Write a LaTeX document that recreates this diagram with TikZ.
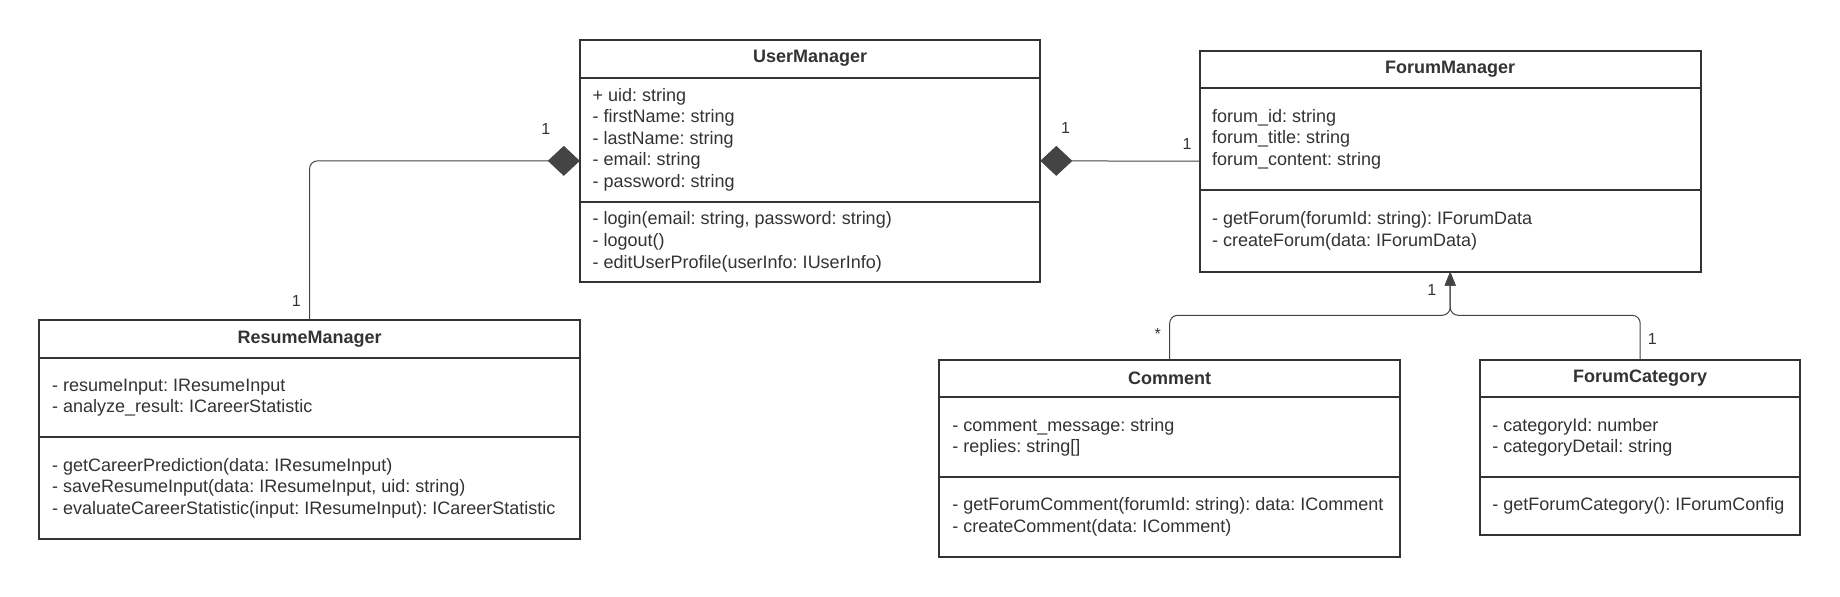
\documentclass[tikz,border=0pt]{standalone}
\usepackage{fontspec}
\setmainfont{Liberation Sans}
\usetikzlibrary{arrows.meta,calc}
\definecolor{ink}{HTML}{333333}
\definecolor{wire}{HTML}{444444}
\begin{document}
\begin{tikzpicture}[x=1pt,y=-1pt,
  box/.style={draw=ink,line width=2pt,fill=none,anchor=north west,inner sep=0pt,outer sep=0pt},
  sep/.style={draw=ink,line width=2pt},
  ctitle/.style={font={\fontsize{18pt}{21.6pt}\selectfont\bfseries\frenchspacing},text=ink,inner sep=0pt},
  members/.style={font={\fontsize{18pt}{21.6pt}\selectfont\frenchspacing},text=ink,inner sep=0pt,anchor=west,align=left},
  conn/.style={draw=wire,line width=1pt,rounded corners=8pt},
  lbl/.style={font={\fontsize{16pt}{19pt}\selectfont},text=ink,inner sep=0pt},
  comp/.style={{Diamond[length=32pt,width=30pt]}-},
  gen/.style={-{Triangle[length=14pt,width=11pt]}}
]
\useasboundingbox (0,0) rectangle (1840,597);
\fill[white] (0,0) rectangle (1840,597);

% UserManager
\node[box,minimum width=460.5pt,minimum height=242.3pt] (um) at (579.8,39.7) {};
\draw[sep] (579.8,77.7) -- (1040.3,77.7);
\draw[sep] (579.8,201.7) -- (1040.3,201.7);
\node[ctitle] (umt) at (810.05,58.7) {UserManager};
\node[members] (uma) at (592.5,139.7) {+ uid: string\\- firstName: string\\- lastName: string\\- email: string\\- password: string};
\node[members] (umm) at (592.5,241.8) {- login(email: string, password: string)\\- logout()\\- editUserProfile(userInfo: IUserInfo)};

% ForumManager
\node[box,minimum width=500.6pt,minimum height=221pt] (fm) at (1199.9,50.7) {};
\draw[sep] (1199.9,88) -- (1700.5,88);
\draw[sep] (1199.9,190) -- (1700.5,190);
\node[ctitle] (fmt) at (1450.2,69.3) {ForumManager};
\node[members] (fma) at (1211.9,139) {forum\_id: string\\forum\_title: string\\forum\_content: string};
\node[members] (fmm) at (1211.9,230.9) {- getForum(forumId: string): IForumData\\- createForum(data: IForumData)};

% ResumeManager
\node[box,minimum width=540.5pt,minimum height=219.3pt] (rm) at (39.3,319.7) {};
\draw[sep] (39.3,358) -- (579.8,358);
\draw[sep] (39.3,437) -- (579.8,437);
\node[ctitle] (rmt) at (309.55,338.8) {ResumeManager};
\node[members] (rma) at (52,397.5) {- resumeInput: IResumeInput\\- analyze\_result: ICareerStatistic};
\node[members] (rmm) at (52,488) {- getCareerPrediction(data: IResumeInput)\\- saveResumeInput(data: IResumeInput, uid: string)\\- evaluateCareerStatistic(input: IResumeInput): ICareerStatistic};

% Comment
\node[box,minimum width=460.6pt,minimum height=197pt] (cm) at (939.4,359.7) {};
\draw[sep] (939.4,397.3) -- (1400,397.3);
\draw[sep] (939.4,477) -- (1400,477);
\node[ctitle] (cmt) at (1169.7,378.5) {Comment};
\node[members] (cma) at (952.1,437.2) {- comment\_message: string\\- replies: string[]};
\node[members] (cmm) at (952.1,516.9) {- getForumComment(forumId: string): data: IComment\\- createComment(data: IComment)};

% ForumCategory
\node[box,minimum width=319.6pt,minimum height=175.3pt] (fc) at (1480.4,359.7) {};
\draw[sep] (1480.4,397.3) -- (1800,397.3);
\draw[sep] (1480.4,477) -- (1800,477);
\node[ctitle] (fct) at (1640.2,378.5) {ForumCategory};
\node[members] (fca) at (1492.2,437.2) {- categoryId: number\\- categoryDetail: string};
\node[members] (fcm) at (1492.2,505.9) {- getForumCategory(): IForumConfig};

% connectors
\draw[conn,comp] (um.west) -| (rm.north);
\draw[conn,comp] (um.east) -- (fm.west);
\coordinate (jn) at ($(fm.south)+(0,43.6)$);
\draw[conn,gen] (cm.north) |- (jn) -- (fm.south);
\draw[conn,gen] (fc.north) |- (jn) -- (fm.south);

% multiplicities
\node[lbl] (m1) at (545.8,129.3) {1};
\node[lbl] (m2) at (296.4,301) {1};
\node[lbl] (m3) at (1065.5,128.3) {1};
\node[lbl] (m4) at (1187,144) {1};
\node[lbl] (m5) at (1431.7,289.5) {1};
\node[lbl] (m6) at (1157.7,334) {*};
\node[lbl] (m7) at (1652.4,338.7) {1};
\end{tikzpicture}
\end{document}
